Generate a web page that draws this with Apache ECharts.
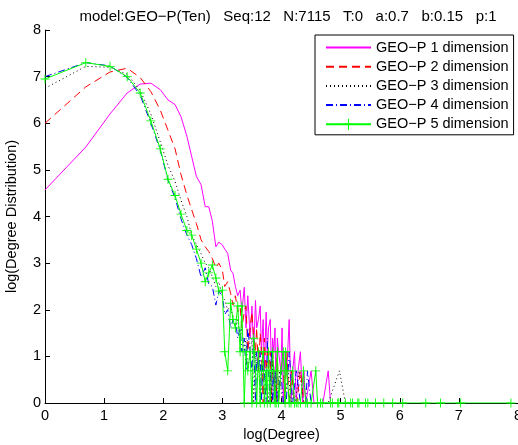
<!DOCTYPE html>
<html><head><meta charset="utf-8">
<script src="https://cdn.jsdelivr.net/npm/echarts@6/dist/echarts.min.js"></script>
<style>html,body{margin:0;padding:0;background:#fff}#c{width:518px;height:445px}</style>
</head><body><div id="c"></div>
<script>
const titleText = 'model:GEO\u2212P(Ten)   Seq:12   N:7115   T:0   a:0.7   b:0.15   p:1';
const xAxisTitle = 'log(Degree)';
const yAxisTitle = 'log(Degree Distribution)';
const seriesNames = ['GEO\u2212P 1 dimension','GEO\u2212P 2 dimension','GEO\u2212P 3 dimension','GEO\u2212P 4 dimension','GEO\u2212P 5 dimension'];

// log(degree) for the first 50 degrees, shared by all series
const headX = [0,0.69,1.10,1.39,1.61,1.79,1.95,2.08,2.20,2.30,
  2.40,2.48,2.56,2.64,2.71,2.77,2.83,2.89,2.94,3.00,
  3.04,3.09,3.14,3.18,3.22,3.26,3.30,3.33,3.37,3.40,
  3.43,3.47,3.50,3.53,3.56,3.58,3.61,3.64,3.66,3.69,
  3.71,3.74,3.76,3.78,3.81,3.83,3.85,3.87,3.89,3.91];

// dimension 1 (magenta)
const y1 = [4.57,5.49,6.20,6.65,6.84,6.86,6.72,6.50,6.40,6.14,
  5.72,5.29,4.86,4.68,4.21,4.21,3.90,3.35,3.45,3.39,
  3.30,3.21,2.85,2.78,2.50,2.30,2.42,1.95,2.48,1.61,
  2.30,1.39,2.08,1.10,2.20,1.61,1.79,2.08,1.10,1.79,
  0.69,1.95,1.10,1.61,1.79,0.69,1.39,1.10,1.61,0,
  1.39,1.10,0.69,1.61,0,1.10,0.69,1.79,0,0.69,
  1.10,0,0.69,1.10,0,0.69,0,0,0.69,0,
  0,0,0,0.69,0];
const tailX1 = [3.93,3.95,3.99,4.01,4.03,4.06,4.09,4.13,4.16,4.19,4.22,4.25,4.28,4.32,4.36,4.38,4.41,4.44,4.50,4.55,4.61,4.65,4.70,4.79,4.83];

// dimension 2 (red dashed)
const y2 = [6.00,6.78,7.10,7.18,6.98,6.68,6.28,5.85,5.45,4.90,
  4.46,4.15,3.85,3.50,3.35,3.25,3.10,2.90,3.00,2.85,
  2.50,2.60,2.35,2.10,2.30,1.95,2.07,1.61,1.95,2.08,
  1.10,1.61,1.95,1.39,1.10,1.61,0.69,1.50,1.10,0,
  1.39,0.69,1.10,0.69,1.10,0,1.10,0.69,0.69,0,
  1.10,0,0.69,0.69,0,1.10,0,0.69,0,0,
  0.69,0,0,0];
const tailX2 = [3.93,3.95,3.99,4.03,4.06,4.09,4.13,4.17,4.22,4.26,4.32,4.38,4.44,4.50];

// dimension 3 (black dotted)
const y3 = [6.75,7.22,7.20,7.05,6.70,6.20,5.60,5.10,4.75,4.35,
  4.00,3.60,3.40,3.20,3.00,2.90,2.70,2.50,2.60,2.30,
  2.20,2.00,2.10,1.79,1.61,1.79,1.39,1.61,1.10,1.39,
  0.69,1.10,1.39,0,1.10,0.69,1.10,0,0.69,1.10,
  0,0.69,0.69,0,0.69,0,1.10,0,0.69,0,
  0,0.69,0,0,0.69,0,0,0.69,0,0,
  0,0,0.69,0.69,0];
const tailX3 = [3.93,3.97,4.01,4.06,4.11,4.17,4.23,4.30,4.38,4.50,4.62,4.79,4.98,5.01,5.08];

// dimension 4 (blue dash-dot)
const y4 = [7.00,7.30,7.23,6.98,6.60,6.00,5.42,4.78,4.40,3.95,
  3.60,3.40,3.10,2.70,2.90,2.55,2.50,2.10,2.40,2.30,
  1.90,2.00,1.61,1.79,1.79,1.39,1.61,1.10,1.39,0.69,
  1.61,1.10,0.69,1.39,0,1.10,0.69,1.10,0,1.10,
  0.69,0,1.39,0.69,0,1.10,0,0.69,0,0.69,
  0,0,0.69,0,0,1.10,0,0.69,0,0,
  0.69,0,0];
const tailX4 = [3.93,3.95,3.99,4.03,4.08,4.13,4.19,4.25,4.32,4.41,4.44,4.50,4.58];

// dimension 5 (green, + markers)
const y5 = [6.95,7.30,7.22,7.00,6.65,6.05,5.45,4.80,4.45,4.05,
  3.70,3.60,3.30,3.00,2.60,2.79,2.96,2.68,2.40,2.42,
  1.10,0.69,2.14,1.79,1.61,2.08,1.10,2.08,0,1.10,
  0.69,1.10,0,1.39,0.69,0,1.10,0,0.69,1.10,
  0,0.69,0,1.10,0,0.69,1.10,0.69,0,0,
  1.10,0,0.69,1.10,0,1.10,0.69,0,0,0.69,
  0,0,0,0,0.69,0,0,0,0.69,0,
  0,0,0,0,0,0,0,0,0,0,
  0,0,0,0,0,0,0,0,0,0,0];
const tailX5 = [3.93,3.95,3.99,4.03,4.06,4.07,4.09,4.13,4.16,4.19,4.22,4.25,4.28,4.32,4.37,4.41,4.44,4.50,4.58,4.61,
  4.66,4.69,4.83,4.86,4.95,4.97,5.08,5.17,5.20,5.29,5.31,5.42,5.46,5.59,5.73,5.88,6.05,6.44,6.69,7.03,7.88];

const axisTicks = [0,1,2,3,4,5,6,7,8];

function pairs(xs, ys) { return xs.map((x, i) => [x, ys[i]]); }
const allY = [y1, y2, y3, y4, y5];
const allTail = [tailX1, tailX2, tailX3, tailX4, tailX5];
const colors = ['#ff00ff', '#ff0000', '#000000', '#0000ff', '#00ff00'];
const dashes = ['solid', [8, 5], [1, 3], [7, 3, 1, 3], 'solid'];
const plusPath = 'path://M4.5,0H5.5V4.5H10V5.5H5.5V10H4.5V5.5H0V4.5H4.5Z';
const FONT = '"Liberation Sans", Arial, Helvetica, sans-serif';
const FS = 14.5;

const chart = echarts.init(document.getElementById('c'), null, {renderer: 'canvas'});
const series = seriesNames.map((name, i) => ({
  name: name,
  type: 'line',
  data: pairs(headX.concat(allTail[i]), allY[i]),
  symbol: i === 4 ? plusPath : 'none',
  symbolSize: 9,
  showSymbol: i === 4,
  showAllSymbol: true,
  lineStyle: {color: colors[i], width: 1, type: dashes[i]},
  itemStyle: {color: colors[i]},
  emphasis: {disabled: true},
  silent: true,
  animation: false
}));

const legendData = seriesNames.map((name, i) => (i === 4 ? {name: name} :
  {name: name, itemStyle: {color: 'rgba(0,0,0,0)', borderWidth: 0, opacity: 0}}));

chart.setOption({
  backgroundColor: '#fff',
  animation: false,
  title: {
    text: titleText, left: 283, top: 4, textAlign: 'center',
    textStyle: {fontFamily: FONT, fontSize: 15, fontWeight: 'normal', color: '#000'}
  },
  grid: {left: 45, right: 0, top: 30, bottom: 42, containLabel: false, outerBoundsMode: 'none'},
  legend: {
    data: legendData, orient: 'vertical', left: 315, top: 35,
    itemWidth: 45, itemHeight: 14, itemGap: 4.2, padding: [5, 5, 3, 10],
    backgroundColor: '#fff', borderColor: '#000', borderWidth: 1,
    textStyle: {fontFamily: FONT, fontSize: FS, color: '#000', lineHeight: 14},
    selectedMode: false
  },
  xAxis: {
    type: 'value', min: axisTicks[0], max: axisTicks[axisTicks.length - 1], interval: 1,
    name: xAxisTitle, nameLocation: 'middle', nameGap: 24,
    nameTextStyle: {fontFamily: FONT, fontSize: FS, color: '#000'},
    axisLine: {show: true, onZero: false, lineStyle: {color: '#000', width: 1}},
    axisTick: {show: true, inside: true, length: 5, lineStyle: {color: '#000'}},
    axisLabel: {fontFamily: FONT, fontSize: FS, color: '#000', margin: 5},
    splitLine: {show: false}
  },
  yAxis: {
    type: 'value', min: axisTicks[0], max: axisTicks[axisTicks.length - 1], interval: 1,
    name: yAxisTitle, nameLocation: 'middle', nameGap: 26,
    nameTextStyle: {fontFamily: FONT, fontSize: FS, color: '#000'},
    axisLine: {show: true, onZero: false, lineStyle: {color: '#000', width: 1}},
    axisTick: {show: true, inside: true, length: 5, lineStyle: {color: '#000'}},
    axisLabel: {fontFamily: FONT, fontSize: FS, color: '#000', margin: 4},
    splitLine: {show: false}
  },
  series: series
});
</script>
</body></html>
